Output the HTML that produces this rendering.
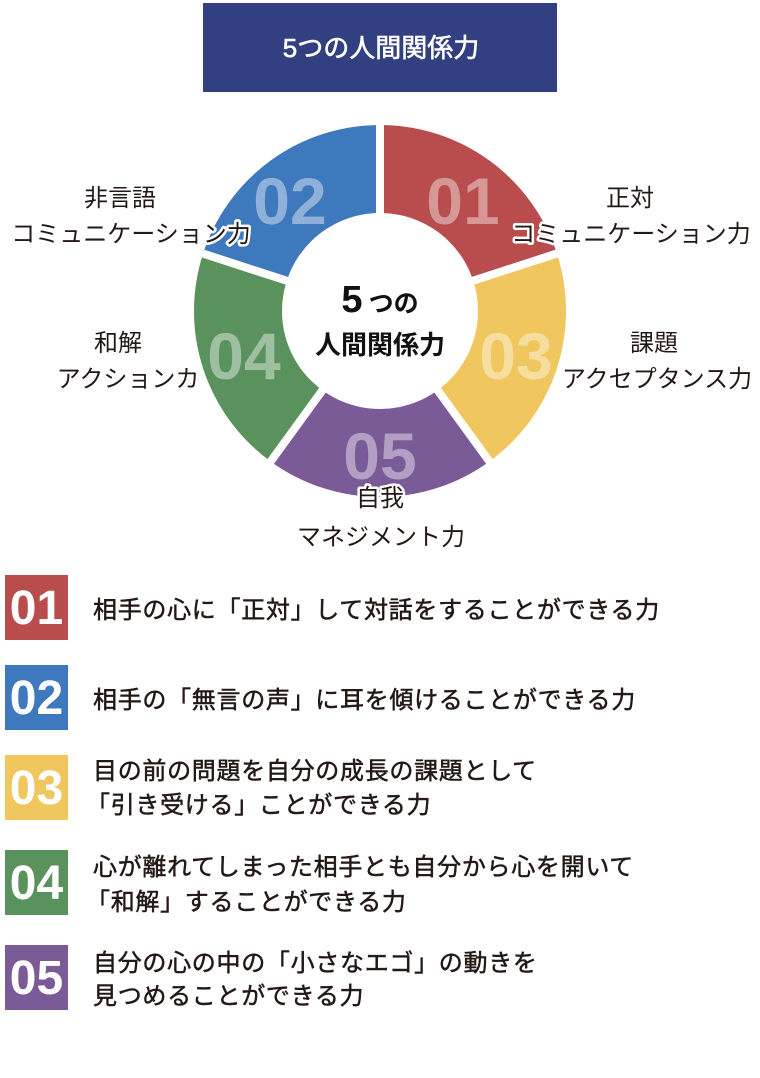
<!DOCTYPE html>
<html><head><meta charset="utf-8"><style>
body{margin:0;background:#fff;width:760px;height:1073px;overflow:hidden;font-family:"Liberation Sans","Noto Sans CJK JP",sans-serif;}
svg text{font-family:"Liberation Sans","Noto Sans CJK JP",sans-serif;}
.lbl{font-size:24px;fill:#231815;stroke:#fff;stroke-width:5px;paint-order:stroke;stroke-linejoin:round;text-anchor:middle;}
.num{font-size:66px;fill:#fff;fill-opacity:.42;text-anchor:middle;font-weight:bold;}
.lt{font-size:24px;fill:#231815;stroke:#231815;stroke-width:0.5px;letter-spacing:0.7px;}
.bn{font-size:48px;fill:#fff;text-anchor:middle;font-weight:bold;}
</style></head><body>
<svg width="760" height="1073" viewBox="0 0 760 1073">
<rect x="203" y="3" width="354" height="89" fill="#323f80"/>
<text x="381" y="57" font-size="26" fill="#fff" text-anchor="middle" stroke="#fff" stroke-width="0.6">5つの人間関係力</text>
<g stroke="#fff" stroke-width="8" stroke-linejoin="miter">
<path d="M380 311 L380 121 A190 190 0 0 1 560.7 252.3 Z" fill="#b94c4c"/>
<path d="M380 311 L560.7 252.3 A190 190 0 0 1 491.7 464.7 Z" fill="#efc75e"/>
<path d="M380 311 L491.7 464.7 A190 190 0 0 1 268.3 464.7 Z" fill="#7b5a98"/>
<path d="M380 311 L268.3 464.7 A190 190 0 0 1 199.3 252.3 Z" fill="#5a925d"/>
<path d="M380 311 L199.3 252.3 A190 190 0 0 1 380 121 Z" fill="#3e79bd"/>
</g>
<circle cx="380" cy="311" r="98" fill="#fff"/>
<text class="num" x="463" y="224">01</text>
<text class="num" x="516" y="379">03</text>
<text class="num" x="380" y="479">05</text>
<text class="num" x="244" y="379">04</text>
<text class="num" x="290" y="224">02</text>
<text x="380" y="312" text-anchor="middle" font-weight="bold" fill="#111"><tspan font-size="38">5</tspan><tspan font-size="25" dx="6">つの</tspan></text>
<text x="380" y="354" text-anchor="middle" font-weight="bold" font-size="26" fill="#111">人間関係力</text>
<text class="lbl" x="630" y="206">正対</text>
<text class="lbl" x="631" y="242">コミュニケーション力</text>
<text class="lbl" x="120" y="206">非言語</text>
<text class="lbl" x="131" y="242">コミュニケーション力</text>
<text class="lbl" x="118" y="351">和解</text>
<text class="lbl" x="128" y="387">アクションカ</text>
<text class="lbl" x="654" y="351">課題</text>
<text class="lbl" x="657" y="387">アクセプタンス力</text>
<text class="lbl" x="380" y="506">自我</text>
<text class="lbl" x="381" y="545">マネジメント力</text>
<rect x="5" y="575" width="63" height="65" fill="#b94c4c"/><text class="bn" x="36.5" y="624">01</text>
<rect x="5" y="665" width="63" height="65" fill="#3e79bd"/><text class="bn" x="36.5" y="714">02</text>
<rect x="5" y="755" width="63" height="65" fill="#efc75e"/><text class="bn" x="36.5" y="804">03</text>
<rect x="5" y="850" width="63" height="65" fill="#5a925d"/><text class="bn" x="36.5" y="899">04</text>
<rect x="5" y="945" width="63" height="65" fill="#7b5a98"/><text class="bn" x="36.5" y="994">05</text>
<text class="lt" x="93" y="618">相手の心に「正対」して対話をすることができる力</text>
<text class="lt" x="93" y="708">相手の「無言の声」に耳を傾けることができる力</text>
<text class="lt" x="93" y="779">目の前の問題を自分の成長の課題として</text>
<text class="lt" x="86" y="813">「引き受ける」ことができる力</text>
<text class="lt" x="93" y="875">心が離れてしまった相手とも自分から心を開いて</text>
<text class="lt" x="86" y="910">「和解」することができる力</text>
<text class="lt" x="93" y="971">自分の心の中の「小さなエゴ」の動きを</text>
<text class="lt" x="93" y="1004">見つめることができる力</text>
</svg>
</body></html>
